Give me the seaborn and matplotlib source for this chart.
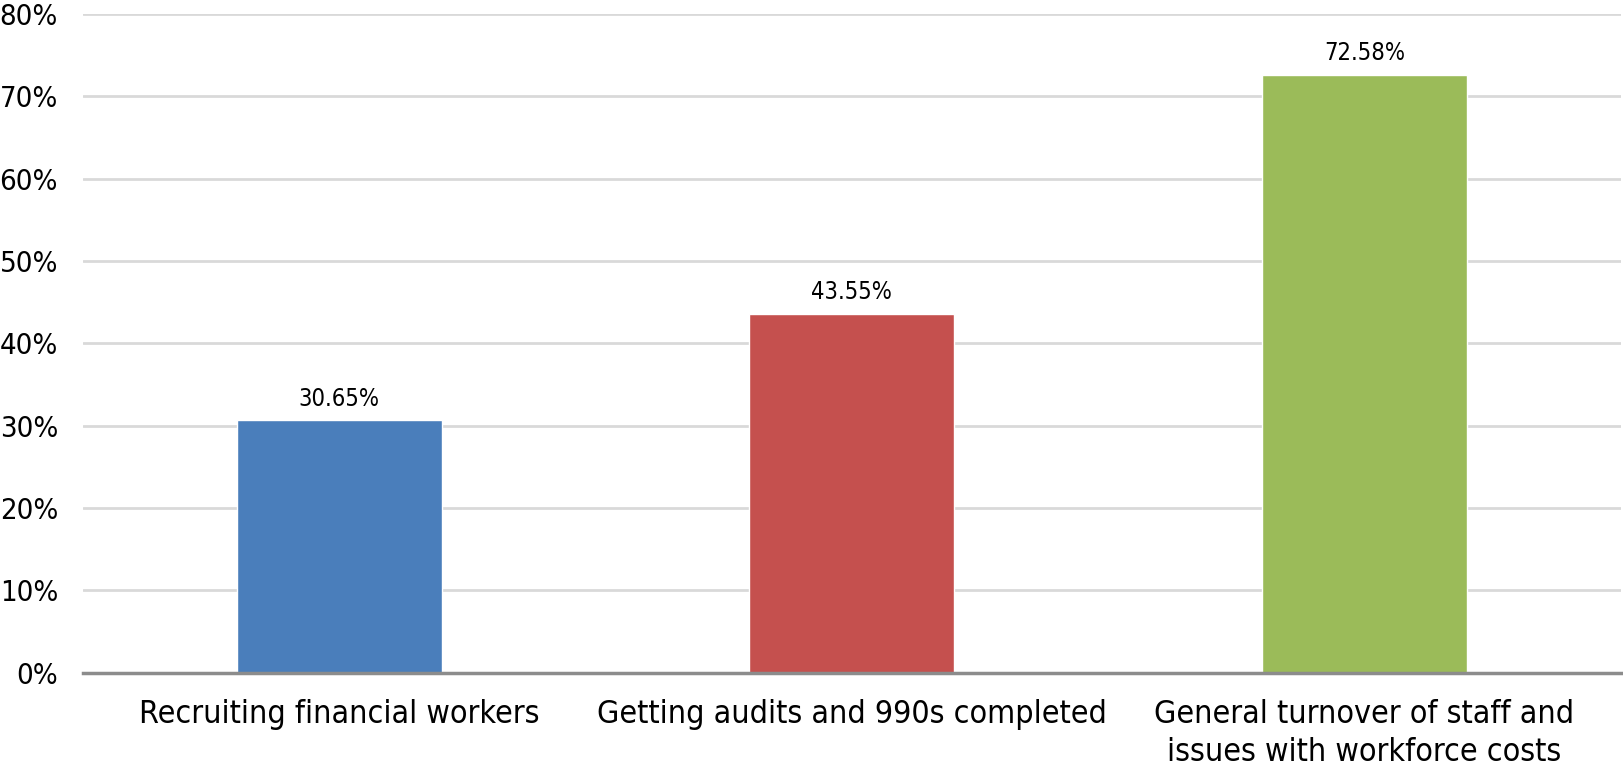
import matplotlib
matplotlib.use("Agg")
import matplotlib.pyplot as plt
import seaborn as sns
import pandas as pd
from matplotlib.ticker import FuncFormatter

categories = ["Recruiting financial workers",
              "Getting audits and 990s completed",
              "General turnover of staff and\nissues with workforce costs"]
values = [30.65, 43.55, 72.58]
colors = ["#4a7ebb", "#c5504e", "#9bbb59"]
yticks = [0, 10, 20, 30, 40, 50, 60, 70, 80]

sns.set_theme(style="white")
plt.rcParams['font.family'] = ['DejaVu Sans']
plt.rcParams['font.stretch'] = 'condensed'

df = pd.DataFrame({"cat": categories, "val": values})

fig = plt.figure(figsize=(16.23, 7.67), dpi=100)
ax = fig.add_axes([0.0511, 0.1229, 0.9475, 0.8588])
sns.barplot(data=df, x="cat", y="val", hue="cat", palette=colors, width=0.4,
            legend=False, ax=ax, saturation=1)

ax.set_ylim(0, 80)
ax.set_yticks(yticks)
ax.yaxis.set_major_formatter(FuncFormatter(lambda v, p: f"{int(v)}%"))
ax.set_xlim(-0.5, 2.5)
ax.grid(axis="y", color="#d9d9d9", linewidth=2)
ax.set_axisbelow(True)
for s in ["top", "right", "left"]:
    ax.spines[s].set_visible(False)
ax.spines["bottom"].set_color("#8c8c8c")
ax.spines["bottom"].set_linewidth(2.5)
ax.set_xlabel("")
ax.set_ylabel("")
ax.tick_params(axis="y", labelsize=21, length=0, pad=18, colors="black")
ax.tick_params(axis="x", labelsize=23, length=0, pad=19, colors="black")
for lbl in ax.get_xticklabels():
    lbl.set_linespacing(1.27)

for c in ax.containers:
    ax.bar_label(c, labels=[f"{v:.2f}%" for v in c.datavalues], fontsize=17,
                 padding=7, color="black")

fig.savefig("out.png", dpi=100)
